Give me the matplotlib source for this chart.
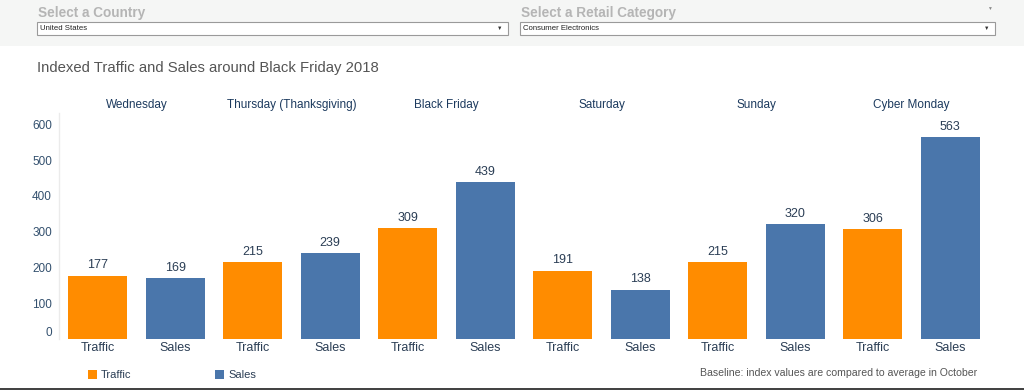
import matplotlib
matplotlib.use("Agg")
import matplotlib.pyplot as plt
import matplotlib.transforms as mtransforms
from matplotlib.patches import Rectangle

plt.rcParams['font.family'] = ['Liberation Sans', 'DejaVu Sans']

days = ["Wednesday", "Thursday (Thanksgiving)", "Black Friday", "Saturday", "Sunday", "Cyber Monday"]
measures = ["Traffic", "Sales"]
traffic = [177, 215, 309, 191, 215, 306]
sales = [169, 239, 439, 138, 320, 563]
yticks = [0, 100, 200, 300, 400, 500, 600]

c_traffic = "#FF8C00"
c_sales = "#4A76AB"
c_text = "#2B3E55"
c_day = "#1C3A5E"

W, H = 1024, 390
fig = plt.figure(figsize=(W / 100, H / 100), dpi=100)
fig.patch.set_facecolor("white")

def fx(px):
    return px / W

def fy(py):
    return 1 - py / H

# filter bar background
fig.patches.append(Rectangle((0, fy(46)), 1, 46 / H, transform=fig.transFigure,
                             facecolor="#F5F6F5", edgecolor="none", zorder=0))
# filter boxes
for x0, x1, lab, val in [(37, 508, "Select a Country", "United States"),
                         (520, 995, "Select a Retail Category", "Consumer Electronics")]:
    fig.text(fx(x0 + 1), fy(13), lab, fontsize=9.8, fontweight="bold", color="#B5B5B5",
             va="center", ha="left")
    fig.patches.append(Rectangle((fx(x0), fy(35)), fx(x1 - x0), 13 / H, transform=fig.transFigure,
                                 facecolor="white", edgecolor="#9A9A9A", linewidth=0.8, zorder=1))
    fig.text(fx(x0 + 3), fy(28.5), val, fontsize=5.6, color="#222222", va="center", ha="left")
    fig.text(fx(x1 - 8), fy(28.5), "▼", fontsize=4, color="#333333", va="center", ha="center")
fig.text(fx(989), fy(8), "▼", fontsize=3.5, color="#888888", va="center", ha="center")

# title
fig.text(fx(37), fy(68), "Indexed Traffic and Sales around Black Friday 2018", fontsize=10.7,
         color="#555555", va="center", ha="left")

# bottom border
fig.patches.append(Rectangle((0, 0), 1, 2.5 / H, transform=fig.transFigure,
                             facecolor="#444444", edgecolor="none"))

ymax = 630
ax = fig.add_axes([fx(59), fy(339), fx(989 - 59), (ymax * 0.358) / H])
ax.set_xlim(-0.5, 11.5)
ax.set_ylim(0, ymax)

xs, vals, cols, labs = [], [], [], []
for i in range(len(days)):
    for j, m in enumerate(measures):
        xs.append(2 * i + j)
        v = traffic[i] if m == "Traffic" else sales[i]
        vals.append(v)
        cols.append(c_traffic if m == "Traffic" else c_sales)
        labs.append(m)

bars = ax.bar(xs, vals, width=0.76, color=cols, zorder=2)
for x, v in zip(xs, vals):
    ax.annotate(str(v), (x, v), xytext=(0, 3), textcoords="offset points", ha="center",
                va="bottom", fontsize=9, color=c_text)

ax.set_xticks(xs)
ax.set_xticklabels(labs, fontsize=9, color=c_text)
ax.tick_params(axis="x", length=0, pad=2)
ax.set_yticks(yticks)
ax.set_yticklabels([str(t) for t in yticks], fontsize=8.5, color="#33506E")
ax.tick_params(axis="y", length=0, pad=5)
for s in ["top", "right", "bottom"]:
    ax.spines[s].set_visible(False)
ax.spines["left"].set_color("#EBEBEB")
ax.spines["left"].set_linewidth(1)

# raise zero label slightly (as in reference)
fig.canvas.draw()
zero_lab = ax.get_yticklabels()[0]
zero_lab.set_transform(zero_lab.get_transform() +
                       mtransforms.ScaledTranslation(0, 7 / 100, fig.dpi_scale_trans))

# day headers
hdr_tr = mtransforms.blended_transform_factory(ax.transData, fig.transFigure)
for i, d in enumerate(days):
    ax.text(2 * i + 0.5, fy(105), d, transform=hdr_tr, ha="center", va="center",
            fontsize=8.5, color=c_day)

# legend
for x0, lab, c in [(88, "Traffic", c_traffic), (215, "Sales", c_sales)]:
    fig.patches.append(Rectangle((fx(x0), fy(379)), fx(9), 9 / H, transform=fig.transFigure,
                                 facecolor=c, edgecolor="none"))
    fig.text(fx(x0 + 13), fy(374.5), lab, fontsize=8, color=c_text, va="center", ha="left")

fig.text(fx(977), fy(373), "Baseline: index values are compared to average in October",
         fontsize=7.6, color="#555555", va="center", ha="right")

fig.savefig("out.png", dpi=100, facecolor="white")
